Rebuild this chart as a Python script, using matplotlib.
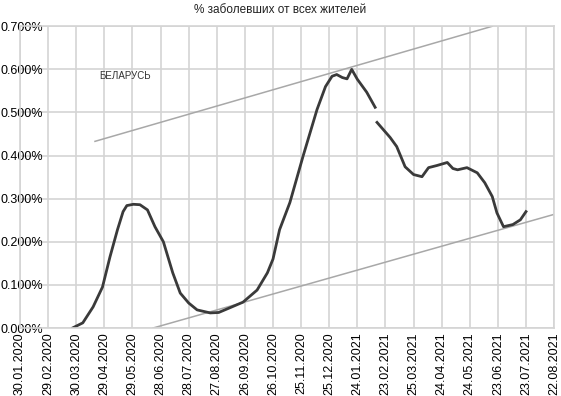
import numpy as np
import pandas as pd
import matplotlib
matplotlib.use('Agg')
import matplotlib.pyplot as plt
import matplotlib.dates as mdates
from matplotlib.ticker import FuncFormatter

plt.rcParams['font.family'] = ['Liberation Sans', 'DejaVu Sans']

# доля заболевших, % от всех жителей
dates = ['2020-03-26', '2020-04-06', '2020-04-17', '2020-04-27', '2020-05-05',
         '2020-05-13', '2020-05-19', '2020-05-23', '2020-05-30', '2020-06-06',
         '2020-06-14', '2020-06-22', '2020-07-01', '2020-07-11', '2020-07-19',
         '2020-07-28', '2020-08-06', '2020-08-20', '2020-08-29', '2020-09-10',
         '2020-09-24', '2020-10-09', '2020-10-20', '2020-10-26', '2020-11-02',
         '2020-11-13', '2020-11-27', '2020-12-12', '2020-12-21', '2020-12-28',
         '2021-01-02', '2021-01-08', '2021-01-13', '2021-01-18', '2021-01-24',
         '2021-02-03', '2021-02-12', '2021-02-13', '2021-02-14', '2021-02-28',
         '2021-03-07', '2021-03-16', '2021-03-25', '2021-04-03', '2021-04-10',
         '2021-04-19', '2021-04-30', '2021-05-06', '2021-05-11', '2021-05-21',
         '2021-06-01', '2021-06-09', '2021-06-17', '2021-06-22', '2021-06-29',
         '2021-07-09', '2021-07-17', '2021-07-23']
values = [0.000, 0.012, 0.049, 0.095, 0.165,
          0.228, 0.270, 0.284, 0.287, 0.286,
          0.274, 0.235, 0.200, 0.128, 0.081,
          0.058, 0.042, 0.035, 0.036, 0.047,
          0.060, 0.088, 0.128, 0.160, 0.228,
          0.291, 0.398, 0.507, 0.560, 0.584,
          0.588, 0.581, 0.578, 0.600, 0.577,
          0.547, 0.512, np.nan, 0.477, 0.442,
          0.421, 0.374, 0.356, 0.351, 0.372,
          0.377, 0.384, 0.370, 0.367, 0.372,
          0.360, 0.337, 0.305, 0.267, 0.235,
          0.240, 0.251, 0.270]

# линии канала
upper_dates = ['2020-04-19', '2021-06-17']
upper_values = [0.433, 0.700]
lower_dates = ['2020-06-20', '2021-08-21']
lower_values = [0.000, 0.263]

tick_labels = ['30.01.2020', '29.02.2020', '30.03.2020', '29.04.2020', '29.05.2020',
               '28.06.2020', '28.07.2020', '27.08.2020', '26.09.2020', '26.10.2020',
               '25.11.2020', '25.12.2020', '24.01.2021', '23.02.2021', '25.03.2021',
               '24.04.2021', '24.05.2021', '23.06.2021', '23.07.2021', '22.08.2021']
y_ticks = [0.0, 0.1, 0.2, 0.3, 0.4, 0.5, 0.6, 0.7]

x = pd.to_datetime(dates)
ticks = pd.to_datetime(tick_labels, format='%d.%m.%Y')

fig = plt.figure(figsize=(5.61, 3.96), dpi=100)
ax = fig.add_axes([0.0357, 0.1717, 0.952, 0.762])

ax.plot(pd.to_datetime(upper_dates), upper_values, color='#a8a8a8', lw=1.1)
ax.plot(pd.to_datetime(lower_dates), lower_values, color='#a8a8a8', lw=1.1)
ax.plot(x, values, color='#3a3a3a', lw=2.0)

ax.set_xlim(ticks[0], ticks[-1])
ax.set_ylim(0, 0.7)
ax.set_xticks(ticks)
ax.xaxis.set_major_formatter(mdates.DateFormatter('%d.%m.%Y'))
ax.set_yticks(y_ticks)
ax.yaxis.set_major_formatter(FuncFormatter(lambda v, p: f'{v:.3f}%'))

ax.grid(True, color='#d4d4d4', lw=1.2)
ax.set_axisbelow(True)
for s in ax.spines.values():
    s.set_color('#d4d4d4')
    s.set_linewidth(1.2)

ax.tick_params(axis='x', length=0, pad=3, labelsize=9, labelrotation=90)
ax.tick_params(axis='y', length=0, pad=13.7, labelsize=9)
for lbl in ax.get_yticklabels():
    lbl.set_horizontalalignment('left')
    lbl.set_zorder(5)

ax.text(pd.Timestamp('2020-04-24'), 0.584, 'БЕЛАРУСЬ', fontsize=7,
        ha='left', va='center', color='#333333')
fig.text(0.5, 0.975, '% заболевших от всех жителей', fontsize=8.5,
         ha='center', va='center', color='#222222')

fig.savefig('out.png', dpi=100)
